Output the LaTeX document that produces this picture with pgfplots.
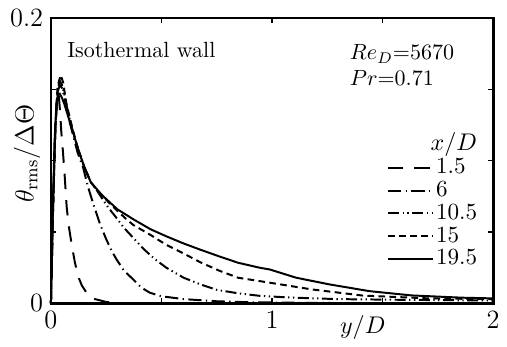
\documentclass[border=0pt]{standalone}
\usepackage{pgfplots}
\pgfplotsset{compat=1.18}
\pgfplotsset{longline/.style={legend image code/.code={\draw[##1] (0pt,0pt) -- (20.4pt,0pt);}}}

% Temperature fluctuation profiles, one table per streamwise station
\pgfplotstableread{
y t
0 0
0.008 0.060
0.017 0.110
0.025 0.138
0.031 0.147
0.036 0.145
0.042 0.133
0.047 0.120
0.054 0.107
0.062 0.090
0.071 0.068
0.080 0.055
0.093 0.042
0.108 0.029
0.123 0.019
0.140 0.0125
0.161 0.0075
0.180 0.0045
0.200 0.003
0.250 0.001
0.300 0.0003
0.500 0
2.000 0
}\xa
\pgfplotstableread{
y t
0 0
0.010 0.068
0.020 0.122
0.030 0.148
0.040 0.153
0.050 0.151
0.060 0.145
0.080 0.130
0.100 0.118
0.120 0.106
0.146 0.095
0.167 0.082
0.191 0.070
0.221 0.056
0.250 0.045
0.274 0.037
0.296 0.031
0.330 0.023
0.372 0.0168
0.410 0.011
0.447 0.0075
0.500 0.005
0.600 0.003
0.750 0.0015
0.900 0.0008
1.200 0.0003
2.000 0.0002
}\xb
\pgfplotstableread{
y t
0 0
0.010 0.068
0.020 0.123
0.030 0.150
0.040 0.156
0.050 0.153
0.060 0.147
0.080 0.132
0.100 0.120
0.123 0.108
0.150 0.096
0.180 0.085
0.200 0.081
0.230 0.074
0.260 0.067
0.296 0.060
0.330 0.053
0.372 0.046
0.420 0.038
0.470 0.031
0.522 0.025
0.600 0.018
0.673 0.0135
0.750 0.0095
0.850 0.007
0.950 0.0052
1.100 0.004
1.300 0.003
1.600 0.0025
2.000 0.002
}\xc
\pgfplotstableread{
y t
0 0
0.010 0.068
0.020 0.123
0.030 0.152
0.044 0.160
0.055 0.155
0.070 0.140
0.100 0.121
0.123 0.108
0.150 0.096
0.180 0.085
0.200 0.081
0.230 0.076
0.260 0.071
0.300 0.065
0.334 0.060
0.372 0.055
0.450 0.048
0.522 0.041
0.600 0.035
0.673 0.029
0.760 0.023
0.846 0.018
0.990 0.0145
1.180 0.0098
1.410 0.0055
1.710 0.0035
2.000 0.003
}\xd
\pgfplotstableread{
y t
0 0
0.008 0.062
0.016 0.112
0.025 0.140
0.032 0.147
0.040 0.147
0.050 0.144
0.060 0.140
0.080 0.130
0.100 0.120
0.123 0.108
0.150 0.096
0.180 0.085
0.230 0.076
0.300 0.066
0.372 0.059
0.450 0.052
0.522 0.047
0.600 0.042
0.673 0.0378
0.760 0.033
0.846 0.0285
0.944 0.025
0.989 0.0238
1.109 0.018
1.260 0.0133
1.440 0.0086
1.630 0.0056
1.860 0.0040
2.000 0.0035
}\xe

\begin{document}
\begin{tikzpicture}
\begin{axis}[
  name=ax,
  scale only axis,
  width=200.97pt, height=129.7pt,
  xmin=0, xmax=2, ymin=0, ymax=0.2,
  xtick={0,0.5,1,1.5,2},
  xticklabels={0,,1,,2},
  ytick={0,0.05,0.1,0.15,0.2},
  yticklabels={0,,,,0.2},
  ticklabel style={font=\large},
  tick align=inside,
  major tick length=2.5pt,
  axis line style={line width=1.2pt},
  every tick/.style={black, line width=0.6pt},
  clip=false,
  every axis plot/.append style={line width=0.9pt, black},
  legend style={draw=none, fill=none,
    at={(axis cs:1.518,0.1195)}, anchor=north west,
    inner sep=0pt, row sep=0pt, column sep=0pt,
    font=\fontsize{10.5}{12}\selectfont,
    nodes={inner sep=1pt, text height=6.8pt, text depth=1.6pt}},
  legend cell align=left,
]
\addlegendimage{empty legend}
\addlegendentry{\hspace*{-2.5pt}$x/D$}
\addplot[dash pattern=on 7pt off 5pt, longline] table[x=y,y=t] {\xa};
\addlegendentry{1.5}
\addplot[dash pattern=on 6pt off 2pt on 0.6pt off 2pt, longline] table[x=y,y=t] {\xb};
\addlegendentry{6}
\addplot[dash pattern=on 5pt off 1.6pt on 0.6pt off 1.6pt on 0.6pt off 1.6pt, longline] table[x=y,y=t] {\xc};
\addlegendentry{10.5}
\addplot[dash pattern=on 3pt off 2pt, longline] table[x=y,y=t] {\xd};
\addlegendentry{15}
\addplot[solid, longline] table[x=y,y=t] {\xe};
\addlegendentry{19.5}

\node[anchor=base west, inner sep=0pt] at (axis cs:0.072,0.172) {Isothermal wall};
\node[anchor=base west, inner sep=0pt] at (axis cs:1.35,0.1706) {$Re_D{=}5670$};
\node[anchor=base west, inner sep=0pt] at (axis cs:1.35,0.153) {$Pr{=}0.71$};
\node[anchor=base, font=\fontsize{11}{13}\selectfont] at ([yshift=-13.6pt]axis cs:1.41,0) {$y/D$};
\node[rotate=90, anchor=center, font=\large] at ([xshift=-10.9pt]rel axis cs:0,0.525) {$\theta_{\mathrm{rms}}/\Delta\Theta$};
\end{axis}
\path[use as bounding box] ([xshift=-23.14pt,yshift=-18.6pt]ax.south west)
  rectangle ([xshift=5.9pt,yshift=8.17pt]ax.north east);
\end{tikzpicture}
\end{document}
